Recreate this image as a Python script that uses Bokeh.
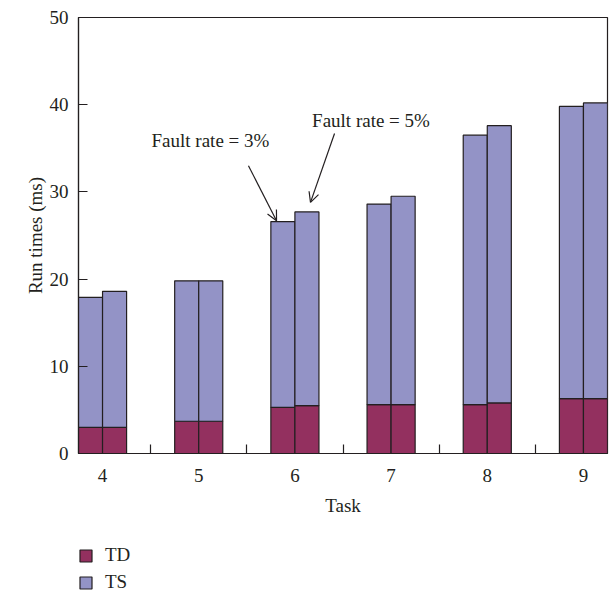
from bokeh.plotting import figure
from bokeh.layouts import column
from bokeh.models import (ColumnDataSource, Range1d, FixedTicker, Legend, LegendItem,
                          Arrow, OpenHead, Label)
from bokeh.transform import dodge
from bokeh.embed import file_html
from bokeh.resources import INLINE

# ---- data ----
tasks = [4, 5, 6, 7, 8, 9]
td_rate3 = [3.0, 3.7, 5.3, 5.6, 5.6, 6.3]
ts_rate3 = [14.9, 16.1, 21.3, 23.0, 30.9, 33.5]
td_rate5 = [3.0, 3.7, 5.5, 5.6, 5.8, 6.3]
ts_rate5 = [15.6, 16.1, 22.2, 23.9, 31.8, 33.9]
y_ticks = [0, 10, 20, 30, 40, 50]
series_names = ["TD", "TS"]

TD_COLOR = "#93305f"
TS_COLOR = "#9393c6"
INK = "#231f20"
FONT = "Liberation Serif"
FS = "19px"

src3 = ColumnDataSource(dict(task=tasks, TD=td_rate3, TS=ts_rate3))
src5 = ColumnDataSource(dict(task=tasks, TD=td_rate5, TS=ts_rate5))

p = figure(frame_width=529, frame_height=436, output_backend="svg", toolbar_location=None,
           x_range=Range1d(3.75, 9.25), y_range=Range1d(0, 50),
           min_border_left=78, min_border_right=3, min_border_top=17, min_border_bottom=77)

p.background_fill_color = "white"
p.border_fill_color = "white"
p.outline_line_color = INK
p.outline_line_width = 1.2
p.xgrid.visible = False
p.ygrid.visible = False

bw = 0.25
r3 = p.vbar_stack(series_names, x=dodge("task", -0.125, range=p.x_range), width=bw,
                  source=src3, color=[TD_COLOR, TS_COLOR], line_color=INK, line_width=1.2)
r5 = p.vbar_stack(series_names, x=dodge("task", 0.125, range=p.x_range), width=bw,
                  source=src5, color=[TD_COLOR, TS_COLOR], line_color=INK, line_width=1.2)

# axes
xa = p.xaxis[0]
xa.ticker = FixedTicker(ticks=tasks, minor_ticks=[t + 0.5 for t in tasks[:-1]])
xa.major_tick_line_color = None
xa.minor_tick_in = 9
xa.minor_tick_out = 0
xa.minor_tick_line_color = INK
xa.minor_tick_line_width = 1.2
xa.axis_line_color = INK
xa.axis_line_width = 1.2
xa.axis_label = "Task"
xa.major_label_standoff = 9
xa.axis_label_standoff = 10

ya = p.yaxis[0]
ya.ticker = FixedTicker(ticks=y_ticks)
ya.major_tick_in = 9
ya.major_tick_out = 0
ya.major_tick_line_color = INK
ya.major_tick_line_width = 1.2
ya.minor_tick_line_color = None
ya.axis_line_color = INK
ya.axis_line_width = 1.2
ya.axis_label = "Run times (ms)"
ya.major_label_standoff = 10
ya.axis_label_standoff = 1

for ax in (xa, ya):
    ax.major_label_text_font = FONT
    ax.major_label_text_font_size = FS
    ax.major_label_text_color = INK
    ax.axis_label_text_font = FONT
    ax.axis_label_text_font_size = FS
    ax.axis_label_text_font_style = "normal"
    ax.axis_label_text_color = INK

# annotations
ann3_text = (5.122, 35.9)
ann3_arrow = ((5.517, 33.0), (5.809, 26.7))
ann5_text = (6.791, 38.2)
ann5_arrow = ((6.412, 36.7), (6.162, 28.8))

for (tx, ty), ((x0, y0), (x1, y1)), txt in [
        (ann3_text, ann3_arrow, "Fault rate = 3%"),
        (ann5_text, ann5_arrow, "Fault rate = 5%")]:
    p.add_layout(Label(x=tx, y=ty, text=txt, text_align="center", text_baseline="middle",
                       text_font=FONT, text_font_size=FS, text_color=INK))
    p.add_layout(Arrow(x_start=x0, y_start=y0, x_end=x1, y_end=y1, line_color=INK,
                       line_width=1.2,
                       end=OpenHead(size=10, line_color=INK, line_width=1.2)))

# legend strip below the chart (its own bars lie far outside its visible ranges)
lf = figure(width=610, height=64, output_backend="svg", toolbar_location=None,
            x_range=Range1d(1003.75, 1009.25), y_range=Range1d(1000, 1001),
            x_axis_location=None, y_axis_location=None,
            min_border=0, min_border_left=0, min_border_right=0,
            min_border_top=0, min_border_bottom=0)
lf.outline_line_color = None
lf.xgrid.visible = False
lf.ygrid.visible = False
lf.background_fill_color = "white"
lf.border_fill_color = "white"

lr = lf.vbar_stack(series_names, x="task", width=bw, source=src3,
                   color=[TD_COLOR, TS_COLOR], line_color=INK, line_width=1.2)
items = [LegendItem(label=name, renderers=[rr]) for name, rr in zip(series_names, lr)]

legend = Legend(items=items, location=(0, 1), orientation="vertical",
                glyph_width=15, glyph_height=15, label_height=15, spacing=5,
                label_standoff=12, padding=0, margin=0,
                border_line_color=None, background_fill_alpha=0,
                label_text_font=FONT, label_text_font_size=FS, label_text_color=INK,
                label_text_baseline="middle")
lf.add_layout(legend, "center")

layout = column(p, lf, spacing=0)
open("out.html", "w").write(file_html(layout, INLINE))
